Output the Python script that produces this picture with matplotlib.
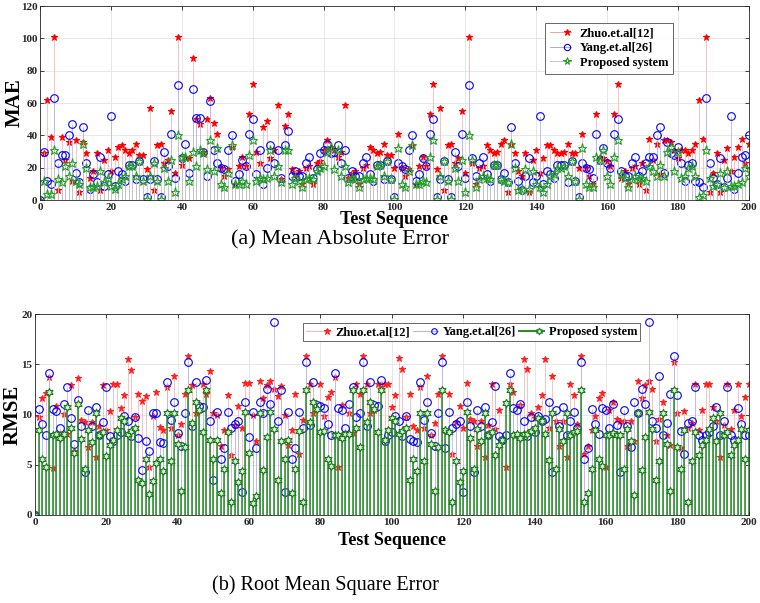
import numpy as np
import matplotlib
matplotlib.use("Agg")
import matplotlib.pyplot as plt
from matplotlib.lines import Line2D
from matplotlib.legend_handler import HandlerBase

plt.rcParams['font.family'] = ['Liberation Serif', 'DejaVu Serif']

seq = np.arange(0, 201)

mae_zhuo = [0, 29, 62, 39, 101, 6, 39, 25, 36, 12,
            37, 5, 36, 29, 14, 18, 29, 6, 25, 31,
            18, 27, 33, 34, 31, 29, 31, 35, 28, 28,
            19, 57, 6, 34, 35, 23, 25, 55, 17, 101,
            22, 27, 26, 88, 50, 47, 30, 50, 63, 48,
            41, 20, 15, 19, 33, 10, 21, 27, 21, 53,
            72, 30, 23, 45, 49, 26, 31, 59, 13, 46,
            53, 19, 16, 18, 10, 20, 21, 10, 23, 24,
            31, 37, 33, 31, 27, 30, 59, 14, 17, 18,
            10, 20, 22, 33, 31, 29, 30, 35, 28, 28,
            20, 41, 20, 15, 19, 34, 10, 21, 27, 21,
            53, 72, 19, 57, 6, 34, 35, 23, 26, 55,
            17, 101, 23, 10, 20, 21, 34, 31, 29, 30,
            35, 37, 5, 35, 29, 18, 15, 29, 5, 25,
            31, 17, 26, 34, 34, 31, 29, 29, 30, 35,
            29, 29, 20, 41, 20, 15, 10, 53, 27, 26,
            24, 21, 53, 72, 14, 18, 10, 20, 21, 10,
            23, 6, 38, 25, 35, 16, 37, 37, 36, 31,
            26, 31, 31, 29, 31, 35, 62, 38, 101, 5,
            17, 29, 5, 25, 32, 18, 27, 33, 38, 23,
            35]
mae_yang = [0, 30, 12, 10, 63, 23, 28, 28, 40, 47,
            17, 11, 45, 23, 7, 16, 11, 27, 9, 16,
            52, 9, 18, 16, 12, 22, 22, 13, 24, 13,
            2, 13, 24, 13, 2, 30, 21, 41, 14, 71,
            26, 35, 17, 69, 51, 51, 30, 15, 61, 31,
            23, 20, 19, 31, 40, 12, 16, 25, 21, 41,
            50, 16, 31, 10, 20, 34, 23, 31, 14, 34,
            43, 15, 18, 15, 15, 23, 27, 14, 19, 29,
            31, 35, 29, 30, 34, 23, 31, 14, 18, 15,
            15, 23, 27, 16, 12, 22, 22, 13, 24, 13,
            2, 23, 21, 19, 31, 40, 12, 16, 26, 21,
            41, 50, 2, 13, 24, 13, 2, 30, 21, 41,
            14, 71, 26, 15, 23, 27, 16, 12, 22, 22,
            13, 17, 11, 45, 23, 12, 6, 15, 26, 11,
            15, 52, 10, 18, 16, 14, 22, 22, 22, 11,
            24, 12, 2, 23, 20, 19, 14, 41, 25, 32,
            23, 20, 41, 50, 18, 15, 15, 23, 27, 15,
            18, 23, 27, 27, 40, 45, 17, 36, 29, 28,
            33, 23, 12, 22, 23, 12, 11, 8, 63, 23,
            14, 10, 26, 8, 14, 52, 7, 17, 27, 28,
            40]
mae_prop = [0, 12, 4, 4, 31, 13, 11, 21, 15, 23,
            12, 10, 35, 20, 8, 8, 9, 18, 11, 14,
            9, 7, 10, 13, 15, 21, 21, 15, 24, 12,
            1, 15, 23, 12, 1, 20, 12, 25, 5, 40,
            27, 27, 12, 30, 21, 31, 29, 19, 37, 18,
            32, 10, 8, 17, 34, 10, 10, 12, 10, 28,
            37, 12, 14, 13, 14, 31, 15, 21, 11, 31,
            31, 10, 14, 12, 8, 13, 14, 13, 18, 20,
            21, 30, 33, 19, 31, 15, 21, 11, 14, 13,
            8, 13, 14, 14, 13, 21, 22, 15, 24, 13,
            1, 32, 10, 8, 18, 34, 10, 10, 12, 11,
            27, 37, 1, 15, 24, 12, 1, 20, 12, 25,
            5, 40, 25, 8, 13, 15, 14, 13, 22, 22,
            13, 12, 11, 35, 20, 6, 7, 19, 7, 18,
            10, 8, 5, 10, 15, 16, 20, 20, 21, 15,
            24, 12, 1, 32, 10, 8, 8, 27, 25, 31,
            15, 10, 27, 37, 16, 14, 8, 13, 15, 13,
            14, 12, 21, 18, 15, 22, 15, 30, 33, 18,
            30, 14, 15, 20, 21, 15, 2, 3, 31, 14,
            9, 10, 17, 8, 18, 9, 9, 10, 11, 20,
            15]

rmse_zhuo = [0, 9.8, 11.6, 12.1, 13.7, 4.7, 10.9, 8.1, 10.1, 8.1,
             12.9, 6.4, 13.6, 9.5, 9.3, 6.8, 9.3, 5.8, 8.9, 12.9,
             8.5, 10.4, 13.0, 13.0, 10.7, 11.9, 15.5, 14.4, 9.8, 12.0,
             11.4, 11.8, 4.8, 9.9, 12.2, 8.8, 8.5, 12.7, 8.7, 13.8,
             8.0, 9.1, 12.0, 15.8, 12.9, 10.2, 10.5, 13.0, 12.0, 14.3,
             10.2, 10.0, 6.9, 8.5, 11.9, 6.0, 9.0, 10.9, 8.7, 13.1,
             13.1, 10.0, 7.4, 13.3, 11.6, 12.9, 13.3, 12.5, 11.8, 12.8,
             10.0, 7.0, 8.5, 12.0, 6.1, 9.5, 15.8, 13.0, 10.2, 10.7,
             13.0, 9.9, 11.7, 12.2, 13.7, 4.8, 11.0, 8.2, 10.2, 8.2,
             13.0, 12.0, 15.8, 13.0, 10.2, 10.5, 13.0, 13.0, 13.0, 13.0,
             10.8, 11.9, 15.6, 14.5, 9.8, 12.0, 8.9, 8.5, 12.7, 8.7,
             13.8, 8.0, 9.2, 12.0, 15.8, 8.5, 12.0, 6.1, 9.3, 10.9,
             8.7, 13.1, 9.6, 9.4, 6.9, 9.4, 5.8, 9.0, 13.0, 8.6,
             10.5, 7.5, 4.8, 13.0, 12.2, 8.0, 11.0, 15.5, 14.5, 10.2,
             9.7, 10.8, 11.9, 15.5, 8.7, 13.8, 9.4, 6.9, 9.4, 5.8,
             13.0, 11.9, 9.1, 15.8, 6.1, 6.9, 8.5, 9.9, 11.6, 12.1,
             4.8, 10.5, 11.3, 9.6, 9.4, 9.4, 6.9, 9.4, 7.4, 13.3,
             11.6, 12.9, 13.3, 12.5, 7.4, 9.6, 11.3, 8.0, 7.0, 15.2,
             10.2, 6.7, 10.4, 8.7, 9.2, 13.0, 8.5, 10.5, 13.0, 13.0,
             10.8, 9.4, 5.8, 9.0, 13.0, 8.6, 10.5, 13.0, 9.9, 11.7,
             13.0]
rmse_yang = [0, 10.6, 9.1, 8.0, 14.1, 10.6, 10.4, 8.7, 11.1, 12.7,
             9.7, 7.1, 11.5, 8.9, 4.3, 10.5, 8.9, 10.8, 8.0, 9.3,
             12.7, 7.9, 7.4, 8.0, 8.3, 9.9, 9.4, 7.9, 9.8, 7.7,
             4.5, 7.4, 6.4, 10.2, 10.2, 7.3, 7.2, 13.2, 9.5, 11.3,
             8.2, 6.9, 10.2, 15.2, 8.9, 13.2, 10.9, 10.8, 13.4, 9.4,
             3.5, 10.3, 5.6, 6.7, 10.3, 8.7, 9.1, 9.4, 2.3, 11.3,
             7.8, 10.3, 6.7, 11.3, 10.2, 12.5, 11.1, 19.2, 9.4, 12.4,
             2.3, 10.3, 5.6, 6.7, 10.3, 8.7, 15.2, 9.0, 13.2, 11.0,
             10.9, 10.7, 9.1, 8.0, 14.1, 10.7, 10.5, 8.7, 11.1, 12.7,
             9.8, 10.2, 15.2, 8.9, 13.2, 11.0, 10.9, 13.4, 7.4, 8.0,
             8.3, 9.9, 9.4, 7.9, 9.9, 7.6, 7.4, 7.3, 13.2, 9.5,
             11.3, 8.2, 6.9, 10.2, 15.2, 6.7, 10.3, 8.7, 9.1, 9.4,
             2.3, 11.3, 8.9, 4.3, 10.5, 8.9, 10.8, 8.0, 9.3, 12.8,
             7.9, 7.5, 8.0, 14.1, 10.7, 10.5, 11.1, 9.4, 7.9, 9.8,
             8.3, 9.9, 9.4, 9.6, 11.3, 4.3, 10.5, 8.9, 10.8, 8.0,
             9.4, 10.3, 8.7, 15.2, 5.6, 6.7, 10.6, 9.1, 8.1, 10.7,
             10.5, 8.7, 11.1, 9.0, 4.3, 10.5, 8.9, 6.8, 11.3, 10.2,
             12.5, 11.1, 19.2, 9.4, 8.7, 13.8, 8.0, 9.2, 12.0, 15.8,
             11.9, 8.4, 6.1, 9.2, 9.4, 12.7, 8.0, 7.5, 8.0, 8.3,
             8.9, 10.8, 8.0, 9.4, 12.7, 8.0, 7.5, 10.7, 9.1, 8.0,
             8.0]
rmse_prop = [0, 8.5, 5.6, 4.8, 12.2, 8.0, 8.1, 7.7, 8.1, 10.8,
             8.7, 6.2, 11.1, 7.6, 4.6, 8.5, 7.3, 10.2, 8.0, 8.3,
             5.9, 7.0, 7.5, 8.5, 9.7, 9.4, 8.1, 8.4, 8.7, 3.5,
             3.2, 5.6, 2.1, 3.4, 5.2, 5.6, 4.4, 10.2, 5.4, 10.2,
             7.1, 2.4, 6.8, 12.4, 9.2, 11.3, 10.5, 8.3, 12.4, 7.5,
             5.6, 7.5, 2.2, 4.6, 8.3, 1.3, 5.4, 3.3, 4.4, 10.3,
             6.2, 1.2, 1.9, 10.2, 4.5, 7.8, 10.3, 8.6, 3.5, 7.4,
             5.6, 7.5, 2.2, 4.6, 8.4, 1.3, 12.4, 9.3, 11.3, 10.6,
             8.3, 8.4, 5.6, 4.9, 8.0, 8.0, 7.7, 8.1, 8.1, 12.4,
             8.7, 6.8, 12.4, 9.3, 11.3, 10.6, 8.3, 12.4, 7.5, 8.5,
             9.7, 9.4, 8.1, 8.4, 8.7, 3.5, 5.6, 4.4, 10.2, 5.4,
             10.2, 7.1, 2.4, 6.8, 12.4, 8.5, 8.3, 1.3, 5.4, 3.3,
             4.4, 10.3, 7.7, 4.6, 8.6, 7.4, 10.2, 8.0, 8.3, 6.0,
             7.0, 7.5, 11.2, 12.4, 8.0, 8.1, 7.7, 8.1, 8.1, 8.4,
             8.7, 9.7, 9.4, 8.1, 5.5, 10.2, 4.6, 8.6, 7.4, 10.2,
             8.0, 8.3, 8.4, 12.4, 1.3, 2.2, 4.6, 8.5, 5.6, 4.9,
             8.0, 8.0, 8.2, 8.0, 8.0, 4.6, 8.6, 7.4, 2.0, 10.2,
             4.5, 7.8, 10.3, 8.6, 3.5, 5.4, 10.2, 7.1, 2.4, 12.4,
             6.8, 4.6, 8.5, 1.3, 5.4, 8.3, 6.0, 7.0, 7.5, 8.6,
             9.7, 7.4, 10.2, 8.0, 8.3, 6.0, 7.0, 7.5, 8.6, 5.6,
             8.5]

labels = ['Zhuo.et.al[12]', 'Yang.et.al[26]', 'Proposed system']


class StemHandler(HandlerBase):
    # matlab style legend icon: line with the marker at its right end
    def create_artists(self, legend, orig, xdescent, ydescent, width,
                       height, fontsize, trans):
        y = height / 2 - ydescent
        ln = Line2D([-xdescent, width - xdescent], [y, y],
                    color=orig.get_color(), lw=orig.get_linewidth())
        mk = Line2D([width - xdescent - 3], [y], marker=orig.get_marker(),
                    ms=orig.get_markersize(), mec=orig.get_markeredgecolor(),
                    mfc=orig.get_markerfacecolor(), mew=0.8, ls='none')
        ln.set_transform(trans)
        mk.set_transform(trans)
        return [ln, mk]


fig = plt.figure(figsize=(7.6, 6.03), dpi=100)
ax1 = fig.add_axes([0.053, 0.668, 0.932, 0.322])
ax2 = fig.add_axes([0.046, 0.146, 0.939, 0.333])


def stem(ax, y, stem_col, lw, mk, mcol, mfc, ms, mew=0.8):
    ml, sl, bl = ax.stem(seq, y, basefmt=' ')
    sl.set_color(stem_col)
    sl.set_linewidth(lw)
    ml.set_marker(mk)
    ml.set_markersize(ms)
    ml.set_markeredgecolor(mcol)
    ml.set_markerfacecolor(mfc)
    ml.set_markeredgewidth(mew)
    ml.set_linestyle('none')
    return ml


def style(ax, ymax, ystep, ylabel, xpad, ypad):
    ax.set_xlim(0, 200)
    ax.set_ylim(0, ymax)
    ax.set_xticks(np.arange(0, 201, 20))
    ax.set_yticks(np.arange(0, ymax + 1, ystep))
    ax.grid(True, color='#e3e3e3', linewidth=0.6)
    ax.set_axisbelow(True)
    ax.tick_params(direction='in', top=True, right=True, length=3,
                   width=0.6, labelsize=8, colors='#262626', pad=2)
    for t in ax.get_xticklabels() + ax.get_yticklabels():
        t.set_fontweight('bold')
    for s in ax.spines.values():
        s.set_linewidth(0.6)
        s.set_color('#262626')
    ax.set_xlabel('Test Sequence', fontsize=13, fontweight='bold',
                  labelpad=xpad)
    ax.set_ylabel(ylabel, fontsize=15, fontweight='bold', labelpad=ypad)


def add_legend(ax, handles, anchor, ncol, **kw):
    leg = ax.legend(handles, labels, loc='upper left', bbox_to_anchor=anchor,
                    ncol=ncol, prop={'weight': 'bold', 'size': 9},
                    frameon=True, fancybox=False, edgecolor='#404040',
                    borderaxespad=0, handler_map={Line2D: StemHandler()},
                    **kw)
    leg.get_frame().set_linewidth(0.7)
    return leg


# (a) MAE
stem(ax1, mae_zhuo, '#f6b8b8', 0.6, '*', '#ff0000', '#ff0000', 5)
stem(ax1, mae_yang, '#b8b8ee', 0.6, 'o', '#0000ff', 'none', 5.5)
stem(ax1, mae_prop, '#c4c4c4', 0.6, '*', '#22a022', 'none', 6.5)
style(ax1, 120, 20, 'MAE', -1, -3)
h1 = [Line2D([], [], color='#f0a0a0', lw=0.7, marker='*', ms=5,
             mec='#ff0000', mfc='#ff0000'),
      Line2D([], [], color='#a8a8e8', lw=0.7, marker='o', ms=4.5,
             mec='#0000ff', mfc='none'),
      Line2D([], [], color='#c4c4c4', lw=0.7, marker='*', ms=5.5,
             mec='#22a022', mfc='none')]
add_legend(ax1, h1, (0.712, 0.915), 1, handlelength=1.7, handletextpad=0.7,
           borderpad=0.4, labelspacing=0.2)

# (b) RMSE
stem(ax2, rmse_zhuo, '#f6b8b8', 0.6, '*', '#ff2020', '#ff2020', 5)
stem(ax2, rmse_yang, '#b8b8ee', 0.6, 'o', '#0000ff', 'none', 5.5)
stem(ax2, rmse_prop, '#228b22', 1.1, (6, 1, 0), '#1a7a1a', '#d8f0d8', 6)
style(ax2, 20, 5, 'RMSE', 4, -1)
h2 = [Line2D([], [], color='#f6b8b8', lw=0.8, marker='*', ms=4.5,
             mec='#ff2020', mfc='#ff2020'),
      Line2D([], [], color='#b8b8ee', lw=0.8, marker='o', ms=4,
             mec='#0000ff', mfc='none'),
      Line2D([], [], color='#228b22', lw=1.4, marker=(6, 1, 0), ms=5,
             mec='#1a7a1a', mfc='#d8f0d8')]
add_legend(ax2, h2, (0.375, 0.955), 3, handlelength=2.0, handletextpad=0.4,
           borderpad=0.25, columnspacing=0.2)

fig.text(0.447, 0.602, '(a) Mean Absolute Error', ha='center', va='center',
         fontsize=16)
fig.text(0.428, 0.03, '(b) Root Mean Square Error', ha='center', va='center',
         fontsize=14.5)

fig.savefig('out.png', dpi=100)
